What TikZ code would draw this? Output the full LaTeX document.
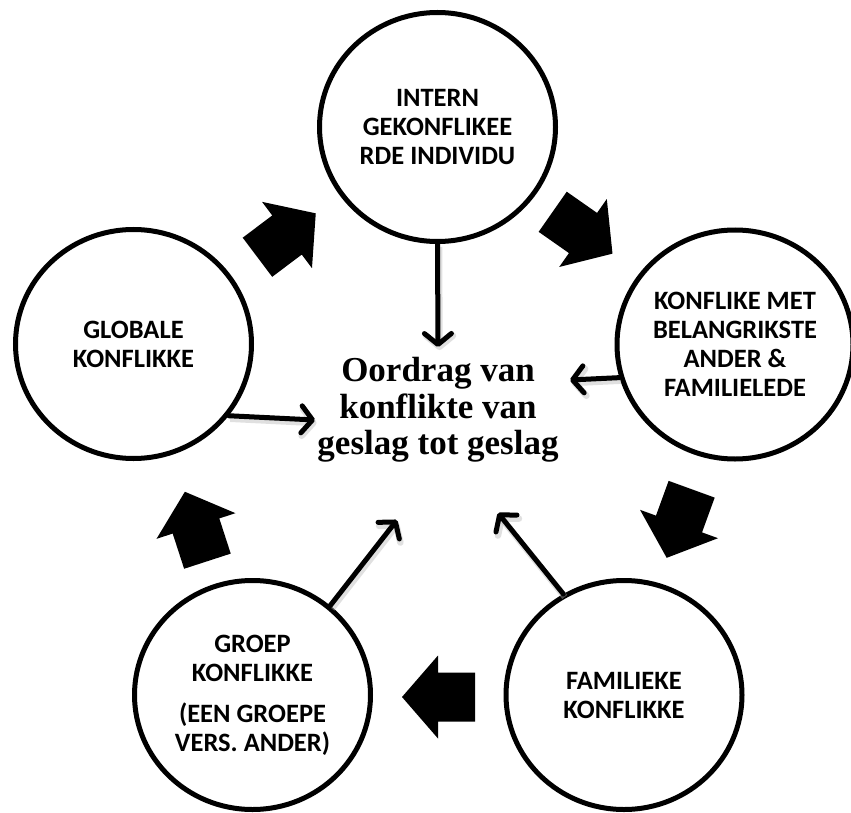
\documentclass[tikz,border=0pt]{standalone}
\usepackage{fontspec}
\newfontfamily\circfont{Carlito}
\newfontfamily\titlefont{Liberation Serif}
\usetikzlibrary{shapes.geometric, arrows.meta}
\begin{document}
\begin{tikzpicture}[x=1pt, y=-1pt,
  bubble/.style={ellipse, draw, line width=5pt, fill=white,
    minimum width=236pt, minimum height=229pt, inner sep=0pt, align=center,
    font=\circfont\bfseries\fontsize{26.5}{29}\selectfont},
  core/.style={align=center, inner sep=4pt,
    font=\titlefont\bfseries\fontsize{35}{36.5}\selectfont},
  link/.style={line width=5pt, line cap=round,
    -{Straight Barb[length=11pt, width=27pt, round]},
    preaction={draw=black!30, opacity=0.4, line width=6.5pt,
      transform canvas={shift={(1.5pt,-3pt)}}}},
  flow/.pic={\fill (-37,-24.5) -- (0,-24.5) -- (0,-41.5) -- (36,0) -- (0,41.5)
    -- (0,24.5) -- (-37,24.5) -- cycle;}
]
% canvas
\path[use as bounding box, fill=white] (0,0) rectangle (851,813);

% the five circles of the cycle
\node[bubble] (T)  at (437.5,127) {INTERN\\GEKONFLIKEE\\RDE INDIVIDU};
\node[bubble] (R)  at (735,344.5) {KONFLIKE MET\\BELANGRIKSTE\\ANDER \&\\FAMILIELEDE};
\node[bubble] (BR) at (624,695)   {FAMILIEKE\\KONFLIKKE};
\node[bubble] (BL) at (252.5,695) {GROEP\\KONFLIKKE\\[12pt](EEN GROEPE\\VERS. ANDER)};
\node[bubble] (L)  at (133.5,344) {GLOBALE\\KONFLIKKE};

% central statement
\node[core] (mid) at (438,410) {Oordrag van\\konflikte van\\geslag tot geslag};

% end points of the thin arrows around the statement
\coordinate (tEnd)  at (438,347);
\coordinate (rEnd)  at (570,380);
\coordinate (lEnd)  at (315,420);
\coordinate (blEnd) at (397,520);
\coordinate (brEnd) at (498,513);

\draw[link] (T.south) -- (tEnd);
\draw[link] (R.196)   -- (rEnd);
\draw[link] (L.-37)   -- (lEnd);
\draw[link] (BL.49)   -- (blEnd);
\draw[link] (BR.121)  -- (brEnd);

% block arrows running clockwise between the circles
\pic[rotate=37]  at (287,235) {flow};
\pic[rotate=-35] at (583,233) {flow};
\pic[rotate=-110] at (679,524) {flow};
\pic[rotate=180] at (438,697) {flow};
\pic[rotate=108] at (196,526) {flow};
\end{tikzpicture}
\end{document}
